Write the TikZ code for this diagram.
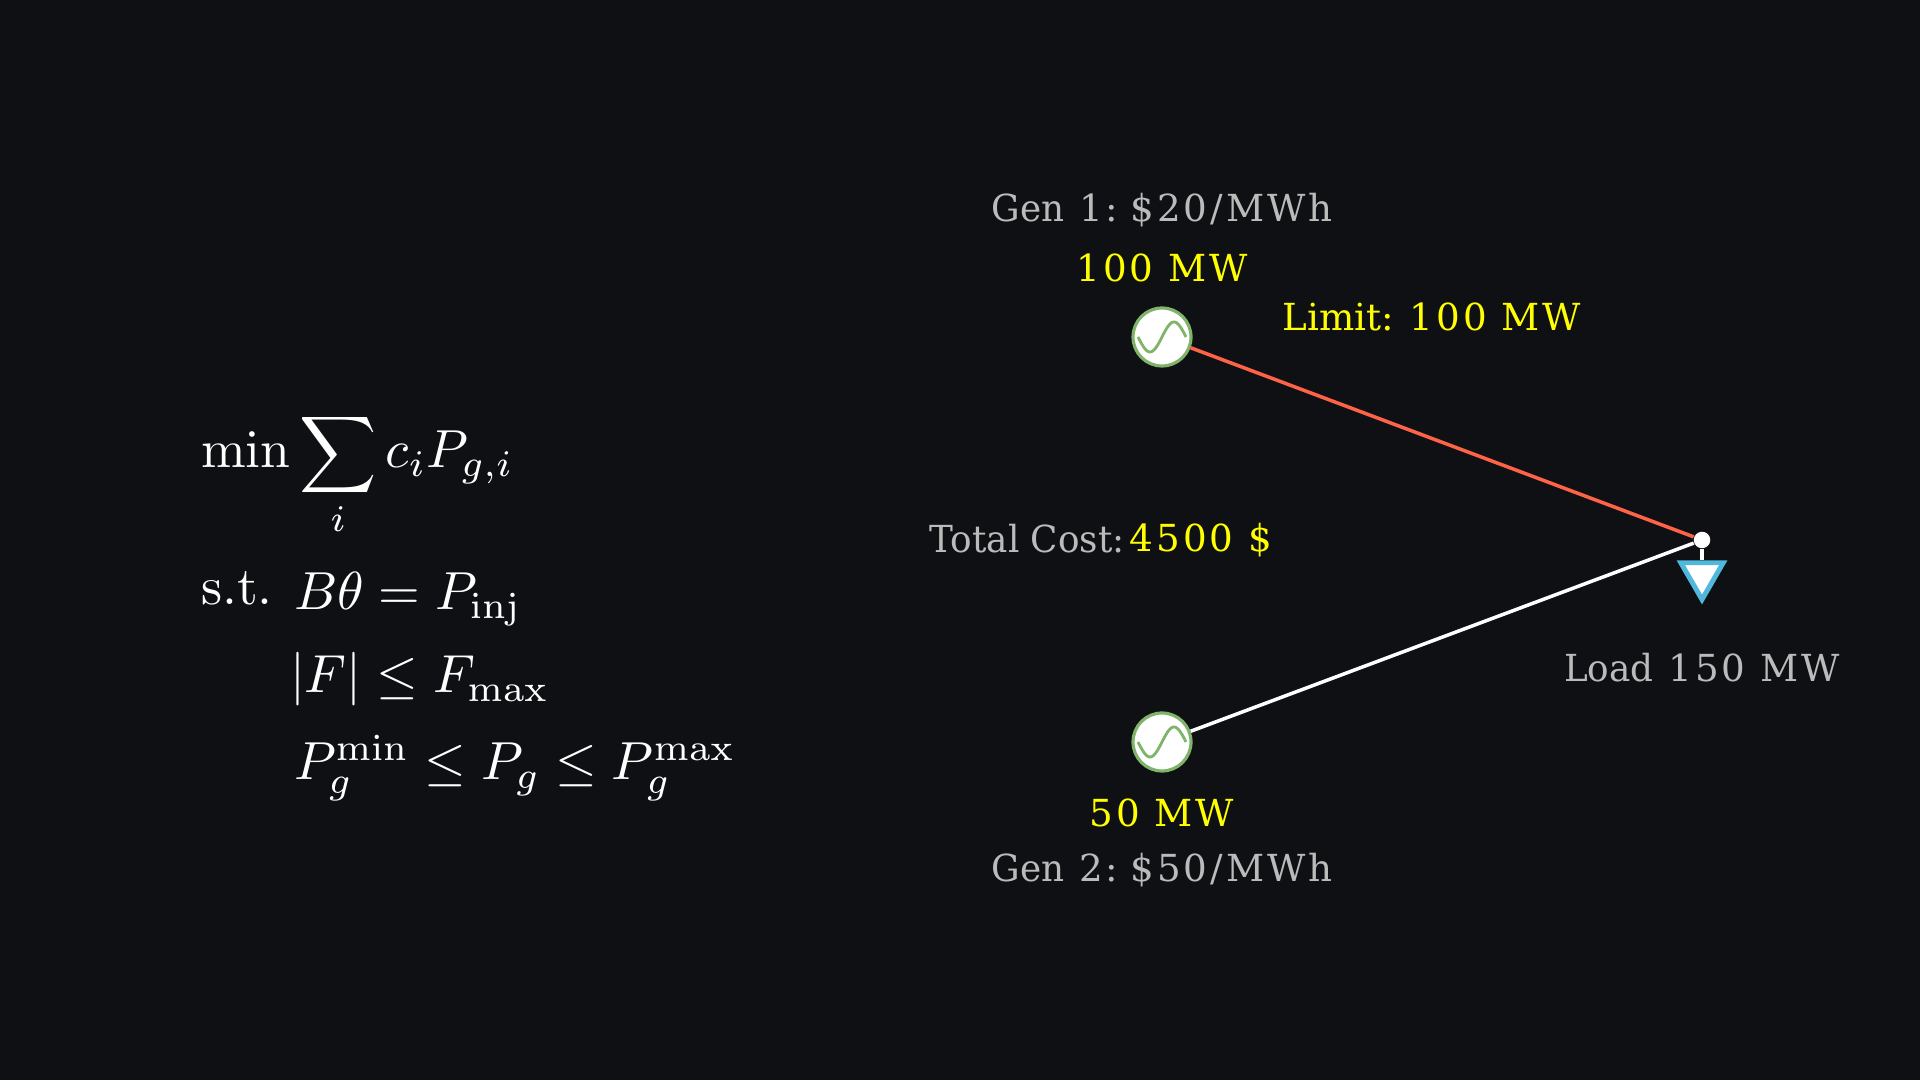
\documentclass[tikz,border=0pt]{standalone}
\usepackage[no-math]{fontspec}
\usepackage{amsmath}
\usetikzlibrary{shapes.geometric}
\setmainfont{DejaVu Serif}
\newfontfamily\spacedfont[LetterSpace=8]{DejaVu Serif}
\newfontfamily\tightfont[FakeStretch=0.96]{DejaVu Serif}
\definecolor{canvas}{HTML}{0E1014}
\definecolor{gengreen}{HTML}{7FB46A}
\definecolor{loadblue}{HTML}{50B8DC}
\definecolor{linered}{HTML}{FF6347}
\definecolor{labelgray}{HTML}{BBBBBB}
\definecolor{flowyellow}{HTML}{FFFF00}
\newcommand{\wide}[1]{{\spacedfont #1}}
\newcommand{\tight}[1]{{\tightfont #1}}
\tikzset{
  infolabel/.style={text=labelgray, inner sep=0pt, font=\fontsize{10.6}{12}\selectfont},
  flowlabel/.style={text=flowyellow, inner sep=0pt, font=\fontsize{10.6}{12}\selectfont},
  mathline/.style={text=white, inner sep=0pt, anchor=base west, scale=1.525},
  genbus/.style={circle, draw=gengreen, fill=white, line width=0.9pt, minimum size=0.58cm, inner sep=0pt},
  loadbus/.style={circle, fill=white, minimum size=0.165cm, inner sep=0pt},
  loadmark/.style={regular polygon, regular polygon sides=3, shape border rotate=180, draw=loadblue, fill=white, line width=1.4pt, minimum size=0.49cm, inner sep=0pt},
  genwave/.style={draw=gengreen, line width=0.8pt},
  branch/.style={line width=1pt}
}
\begin{document}
\begin{tikzpicture}
            \fill[canvas] (0,0) rectangle (19.2,10.8);
            \useasboundingbox (0,0) rectangle (19.2,10.8);

            \node[mathline] (objective) at (2.00, 6.12) {$\displaystyle\min\sum_i c_iP_{g,i}$};
            \node[mathline] (subjectto) at (2.00, 4.75) {$\mathrm{s.t.}$};
            \node[mathline] (balance) at (2.93, 4.70) {$B\theta=P_{\mathrm{inj}}$};
            \node[mathline] (flowlimit) at (2.89, 3.87) {$|F|\leq F_{\max}$};
            \node[mathline] (genlimit) at (2.93, 3.00) {$P_g^{\min}\leq P_g\leq P_g^{\max}$};

            \node[genbus] (genA) at (11.62, 7.43) {};
            \node[genbus] (genB) at (11.62, 3.38) {};
            \node[loadbus] (bus) at (17.02, 5.40) {};
            \node[loadmark] (loadtri) at (17.02, 5.05) {};

            \draw[branch, linered] (genA) -- (bus);
            \draw[branch, white] (genB) -- (bus);
            \draw[branch, white] (bus) -- (loadtri.north);

            \foreach \gen in {genA, genB} {
                \draw[genwave, shift={(\gen)}, domain=-0.24:0.24, samples=40, smooth] plot (\x, {0.15*sin(750*\x)});
            }

            \node[infolabel, anchor=base] (costA) at (11.62, 8.58) {\tight{Gen}\wide{ 1:}\hspace{0.33em}\wide{\$20/MWh}};
            \node[flowlabel, anchor=base] (flowA) at (11.62, 7.98) {\wide{100 MW}};
            \node[flowlabel, anchor=base west] (limit) at (12.82, 7.49) {Limit: \wide{100 MW}};
            \node[infolabel, anchor=base west] (total) at (9.29, 5.27) {\tight{Total Cost:}};
            \node[flowlabel, anchor=base west] (totalval) at (11.29, 5.28) {\wide{4500 \$}};
            \node[flowlabel, anchor=base] (flowB) at (11.62, 2.53) {\wide{50 MW}};
            \node[infolabel, anchor=base] (costB) at (11.62, 1.98) {\tight{Gen}\wide{ 2:}\hspace{0.33em}\wide{\$50/MWh}};
            \node[infolabel, anchor=base] (loadlabel) at (17.02, 3.98) {\tight{Load}\wide{ 150 MW}};
        \end{tikzpicture}
\end{document}
